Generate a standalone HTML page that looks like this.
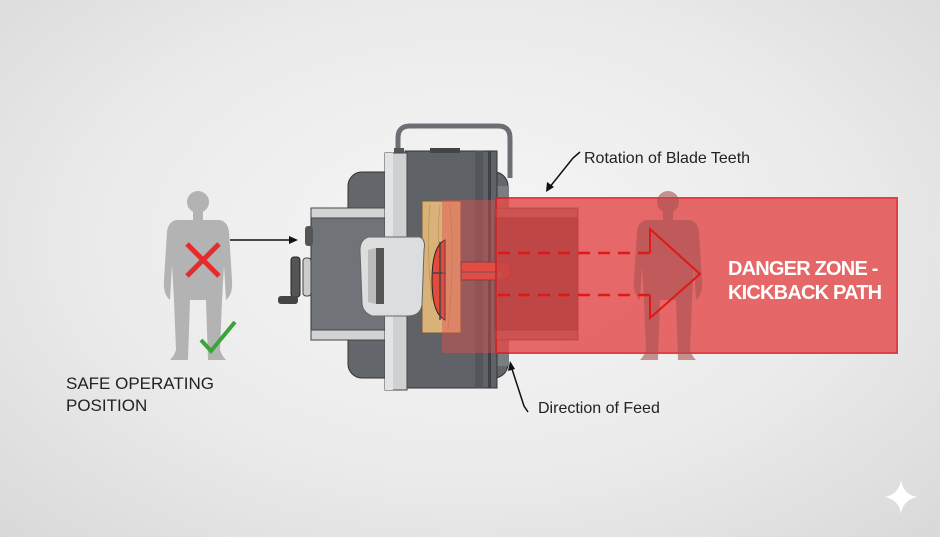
<!DOCTYPE html>
<html><head><meta charset="utf-8"><style>
html,body{margin:0;padding:0;}
body{width:940px;height:537px;overflow:hidden;background:radial-gradient(ellipse at 50% 45%,#f6f6f6 0%,#ebebeb 55%,#d9d9d9 100%);font-family:"Liberation Sans",sans-serif;}
svg{position:absolute;left:0;top:0;}
</style></head><body>
<svg width="940" height="537" viewBox="0 0 940 537">
<defs>
<g id="person">
<circle cx="0" cy="-158" r="11"/>
<rect x="-5" y="-148" width="10" height="8"/>
<path d="M-22,-140 L22,-140 Q30,-138 31,-128 L34,-80 Q35,-68 30,-62 L28,-60 L26,-95 L24,-60 L22,-10 Q24,-4 28,0 L10,0 L8,-60 L2,-60 L-2,-60 L-8,-60 L-10,0 L-28,0 Q-24,-4 -22,-10 L-24,-60 L-26,-95 L-28,-60 L-30,-62 Q-35,-68 -34,-80 L-31,-128 Q-30,-138 -22,-140 Z"/>
</g>
</defs>
<g fill="#b3b3b3" transform="translate(198,360)"><use href="#person"/></g>
<g stroke="#e52b2b" stroke-width="5">
<line x1="187" y1="244" x2="219" y2="276"/><line x1="219" y1="244" x2="187" y2="276"/></g>
<polyline points="201,340 211,351 235,322" fill="none" stroke="#3aa43a" stroke-width="4"/>
<line x1="230" y1="240" x2="291" y2="240" stroke="#111" stroke-width="1.5"/>
<polygon points="298,240 289,236 289,244" fill="#111"/>
<path d="M398,160 L398,138 Q398,126 410,126 L498,126 Q510,126 510,138 L510,178" fill="none" stroke="#6b6e72" stroke-width="5"/>
<rect x="394" y="148" width="10" height="12" fill="#555"/>
<rect x="348" y="172" width="160" height="206" rx="14" fill="#63676b" stroke="#333" stroke-width="1"/>
<rect x="495" y="186" width="14" height="180" fill="#7a7e82"/>
<rect x="311" y="208" width="76" height="132" fill="#707478" stroke="#333"/>
<rect x="311" y="208" width="76" height="10" fill="#d2d3d4" stroke="#444"/>
<rect x="311" y="330" width="76" height="10" fill="#d2d3d4" stroke="#444"/>
<rect x="305" y="226" width="8" height="20" rx="3" fill="#555"/>
<rect x="303" y="258" width="8" height="38" rx="3" fill="#ccc" stroke="#444"/>
<rect x="291" y="257" width="9" height="40" rx="3" fill="#555" stroke="#222"/>
<rect x="278" y="296" width="20" height="8" rx="3" fill="#444"/>
<rect x="405" y="151" width="92" height="237" fill="#5f6367" stroke="#333"/>
<rect x="475" y="151" width="8" height="237" fill="#52565a"/>
<rect x="488" y="151" width="3" height="237" fill="#3d4145"/>
<rect x="430" y="148" width="30" height="5" fill="#444"/>
<rect x="385" y="153" width="22" height="237" fill="#cfd0d1" stroke="#444"/>
<rect x="385" y="153" width="8" height="237" fill="#e2e3e4"/>
<rect x="495" y="208" width="83" height="132" fill="#5e6266" stroke="#333"/>
<rect x="495" y="208" width="83" height="10" fill="#d2d3d4" stroke="#444"/>
<rect x="495" y="330" width="83" height="10" fill="#d2d3d4" stroke="#444"/>
<rect x="422" y="201" width="39" height="132" fill="#d9b27a" stroke="#7a5a30"/>
<path d="M430,205 Q426,250 432,300 M450,205 Q455,260 448,330 M440,205 Q436,240 442,270" stroke="#c49a5e" fill="none"/>
<path d="M445,240 Q432,246 432,280 Q432,314 445,320 Z" fill="#e24a3a" stroke="#222"/>
<line x1="440" y1="242" x2="440" y2="320" stroke="#444" stroke-width="1.5"/>
<line x1="432" y1="273" x2="446" y2="273" stroke="#444" stroke-width="1.5"/>
<path d="M461,262 L503,262 Q511,262 511,271 Q511,280 503,280 L461,280 Z" fill="#e34a3a" stroke="#333"/>
<line x1="461" y1="272" x2="500" y2="272" stroke="#555" stroke-width="1.5"/>
<circle cx="500" cy="275" r="3" fill="#8ab"/>
<path d="M368,237 L420,237 Q426,240 424,250 L422,305 Q420,316 408,316 L372,316 Q362,312 362,302 L360,250 Q360,240 368,237 Z" fill="#dcdddf" stroke="#666"/>
<path d="M368,250 L376,248 L376,304 L368,302 Z" fill="#bbb"/>
<path d="M376,248 L384,248 L384,304 L376,304 Z" fill="#555"/>
<rect x="442" y="200" width="56" height="153" fill="#e35050" opacity=".45"/>
<rect x="496" y="198" width="401" height="155" fill="#e44a4a" opacity=".82" stroke="#e21d1d" stroke-width="2"/>
<rect x="496" y="208" width="82" height="132" fill="#a83a3a" opacity=".35"/>
<g fill="#a85252" opacity=".6" transform="translate(668,360)"><use href="#person"/></g>
<polyline points="650,253 650,229 700,274 650,318 650,295" fill="none" stroke="#e01818" stroke-width="2"/>
<line x1="498" y1="253" x2="650" y2="253" stroke="#e01818" stroke-width="2.5" stroke-dasharray="12,8"/>
<line x1="498" y1="295" x2="650" y2="295" stroke="#e01818" stroke-width="2.5" stroke-dasharray="12,8"/>
<text x="728" y="275" fill="#fff" font-size="20" font-weight="bold" letter-spacing="-0.8">DANGER ZONE -</text>
<text x="728" y="299" fill="#fff" font-size="20" font-weight="bold" letter-spacing="-0.8">KICKBACK PATH</text>
<polyline points="580,152 573,158 549,188" fill="none" stroke="#111" stroke-width="1.5"/>
<polygon points="546,192 547,182 554,187" fill="#111"/>
<text x="584" y="163" font-size="16" fill="#222">Rotation of Blade Teeth</text>
<polyline points="528,412 524,406 511,366" fill="none" stroke="#111" stroke-width="1.5"/>
<polygon points="510,361 508,371 515,369" fill="#111"/>
<text x="538" y="413" font-size="16" fill="#222">Direction of Feed</text>
<text x="66" y="389" font-size="17" fill="#222">SAFE OPERATING</text>
<text x="66" y="411" font-size="17" fill="#222">POSITION</text>
<path d="M901,480 Q903,494 917,497 Q903,500 901,514 Q899,500 885,497 Q899,494 901,480 Z" fill="#fff"/>
</svg>
</body></html>
